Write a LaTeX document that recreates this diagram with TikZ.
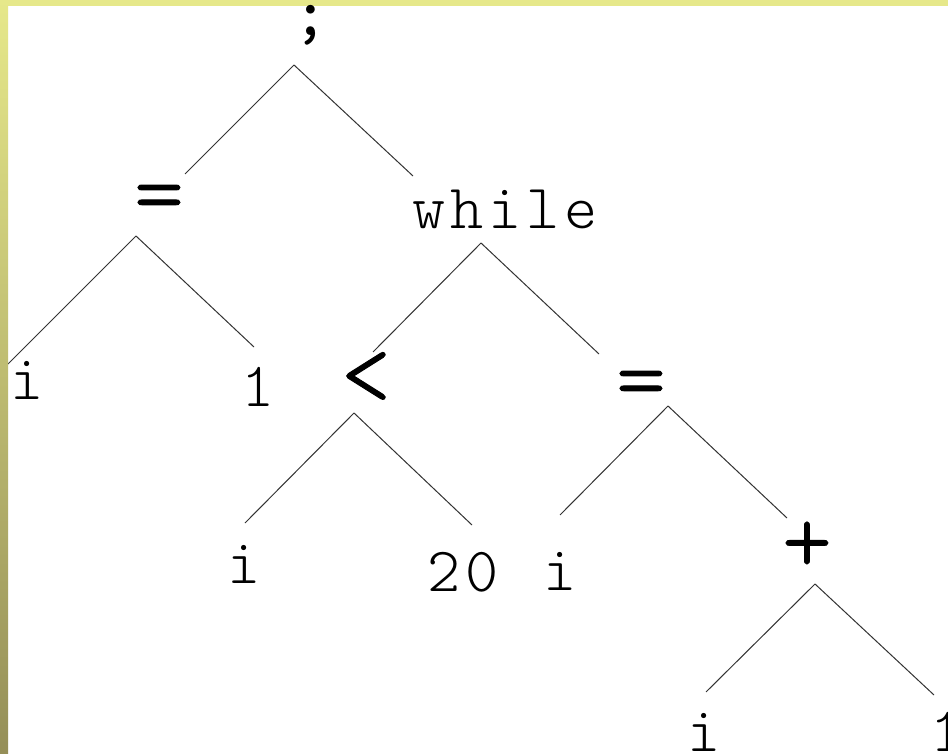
\documentclass[tikz,border=0pt]{standalone}
\usepackage{fontspec}
\setmonofont{lmmonolt10-regular.otf}[LetterSpace=7.6]
\newfontfamily\opfont{lmmonolt10-regular.otf}[FakeBold=1]
\newfontfamily\semifont{lmmono10-regular.otf}
\usepackage{tikz}
\definecolor{barTop}{HTML}{E6E88A}
\definecolor{barBot}{HTML}{958F58}
\definecolor{edgegray}{HTML}{333333}

\begin{document}
\begin{tikzpicture}[x=1pt,y=-1pt,
  lab/.style={anchor=base,inner sep=0pt,font=\ttfamily\fontsize{63}{63}\selectfont},
  oplab/.style={anchor=base,inner sep=0pt,font=\opfont\fontsize{95}{95}\selectfont},
  edge/.style={draw=edgegray,line width=1pt}]
\useasboundingbox (0,0) rectangle (948,754);
% frame of the slide
\fill[white] (0,0) rectangle (948,754);
\fill[barTop] (0,0) rectangle (948,6);
% labels of the tree
\node[oplab,font=\semifont\fontsize{70}{70}\selectfont] (semi) at (311,36) {;};
\node[oplab] (eqA) at (159,224) {=};
\node[lab] (whilen) at (505,229) {while};
\node[lab] (iA) at (27,399) {i};
\node[lab] (oneA) at (258,406) {1};
\node[oplab] (lt) at (366,405) {<};
\node[oplab] (eqB) at (641,410) {=};
\node[lab] (iB) at (244,583) {i};
\node[lab] (twenty) at (463,591) {20};
\node[lab] (iC) at (560,590) {i};
\node[oplab] (plus) at (807,572) {+};
\node[lab] (iD) at (704,751) {i};
\node[lab] (oneB) at (947,751) {1};
% branches
\draw[edge] ([shift={(-17,29)}]semi.base) -- ([shift={(26,-50)}]eqA.base);
\draw[edge] ([shift={(-17,29)}]semi.base) -- ([shift={(-92,-53)}]whilen.base);
\draw[edge] ([shift={(-23,12)}]eqA.base) -- ([shift={(-19,-35)}]iA.base);
\draw[edge] ([shift={(-23,12)}]eqA.base) -- ([shift={(-4,-59)}]oneA.base);
\draw[edge] ([shift={(-24,14)}]whilen.base) -- ([shift={(7,-53)}]lt.base);
\draw[edge] ([shift={(-24,14)}]whilen.base) -- ([shift={(-42,-56)}]eqB.base);
\draw[edge] ([shift={(-12,8)}]lt.base) -- ([shift={(1,-60)}]iB.base);
\draw[edge] ([shift={(-12,8)}]lt.base) -- ([shift={(9,-66)}]twenty.base);
\draw[edge] ([shift={(27,-4)}]eqB.base) -- ([shift={(0,-75)}]iC.base);
\draw[edge] ([shift={(27,-4)}]eqB.base) -- ([shift={(-20,-54)}]plus.base);
\draw[edge] ([shift={(8,12)}]plus.base) -- ([shift={(2,-59)}]iD.base);
\draw[edge] ([shift={(8,12)}]plus.base) -- ([shift={(-13,-56)}]oneB.base);
% left bar over the edge ends
\shade[top color=barTop,bottom color=barBot] (0,0) rectangle (8,754);
\end{tikzpicture}
\end{document}
